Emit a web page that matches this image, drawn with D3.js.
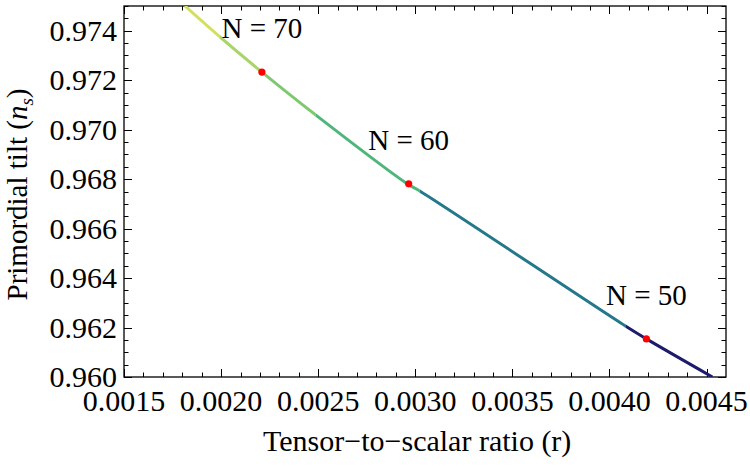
<!DOCTYPE html>
<html>
<head>
<meta charset="utf-8">
<script src="https://cdn.jsdelivr.net/npm/d3@7"></script>
<style>
  body { margin: 0; background: #fff; }
  text { font-family: "Liberation Serif", "Times New Roman", serif; fill: #000; }
</style>
</head>
<body>
<div id="chart-container"></div>
<script>
// Curve: tensor-to-scalar ratio r vs primordial tilt ns
var curveR  = [0.001814, 0.001994, 0.002210, 0.002488, 0.002961, 0.003023, 0.004082, 0.004190, 0.004530];
var curveNs = [0.975000, 0.973750, 0.972330, 0.970590, 0.967800, 0.967520, 0.962060, 0.961540, 0.960000];

// Colour pieces along the curve (r where each piece starts / ends)
var segmentBreaks = [0.001814, 0.001994, 0.002210, 0.002488, 0.003023, 0.004082, 0.004530];
var segmentColors = ["#d2e05e", "#a9d46a", "#7ec86e", "#4eb67a", "#23788b", "#1d1c6c"];

// Marked e-fold numbers
var markLabels = ["N = 70", "N = 60", "N = 50"];
var markR  = [0.002210, 0.002966, 0.004190];
var markNs = [0.972330, 0.967810, 0.961540];

// Axis ticks
var xTicks = [0.0015, 0.0020, 0.0025, 0.0030, 0.0035, 0.0040, 0.0045];
var yTicks = [0.960, 0.962, 0.964, 0.966, 0.968, 0.970, 0.972, 0.974];

var W = 750, H = 469;
var margin = {top: 6, right: 24, bottom: 92, left: 124},
    width = W - margin.left - margin.right,
    height = H - margin.top - margin.bottom;

var svg = d3.select("#chart-container")
    .append("svg")
    .attr("width", W)
    .attr("height", H);

var plot = svg.append("g")
    .attr("transform", "translate(" + margin.left + "," + margin.top + ")");

var xScale = d3.scaleLinear().domain([0.0015, 0.0046]).range([0, width]);
var yScale = d3.scaleLinear().domain([0.960, 0.975]).range([height, 0]);

// Minor tick values
var xMinor = d3.range(15, 46).map(function(i) { return i / 10000; });
var yMinor = d3.range(0, 31).map(function(i) { return 0.960 + i * 0.0005; });

var ticks = plot.append("g").attr("stroke", "#000").attr("stroke-width", 1);

// Bottom & top ticks (pointing inward)
xMinor.forEach(function(v) {
    var major = xTicks.some(function(t) { return Math.abs(t - v) < 1e-9; });
    var len = major ? 8 : 4.5;
    var x = Math.round(xScale(v)) + 0.5;
    ticks.append("line").attr("x1", x).attr("x2", x).attr("y1", height).attr("y2", height - len);
    ticks.append("line").attr("x1", x).attr("x2", x).attr("y1", 0).attr("y2", len);
});
// Left & right ticks
yMinor.forEach(function(v) {
    var major = yTicks.some(function(t) { return Math.abs(t - v) < 1e-9; });
    var len = major ? 8 : 4.5;
    var y = Math.round(yScale(v)) + 0.5;
    ticks.append("line").attr("x1", 0).attr("x2", len).attr("y1", y).attr("y2", y);
    ticks.append("line").attr("x1", width).attr("x2", width - len).attr("y1", y).attr("y2", y);
});

// Frame
plot.append("rect")
    .attr("x", 0).attr("y", 0)
    .attr("width", width).attr("height", height)
    .attr("fill", "none")
    .attr("stroke", "#000")
    .attr("stroke-width", 1.3);

// Tick labels
plot.append("g").selectAll("text")
    .data(xTicks)
    .join("text")
    .attr("x", function(d) { return xScale(d); })
    .attr("y", height + 34)
    .attr("text-anchor", "middle")
    .style("font-size", "30px")
    .text(function(d) { return d.toFixed(4); });

plot.append("g").selectAll("text")
    .data(yTicks)
    .join("text")
    .attr("x", -7)
    .attr("y", function(d) { return yScale(d); })
    .attr("dy", "0.34em")
    .attr("text-anchor", "end")
    .style("font-size", "30px")
    .text(function(d) { return d.toFixed(3); });

// Curve, coloured piece by piece with clip rectangles
var pts = curveR.map(function(r, i) { return [r, curveNs[i]]; });
var line = d3.line()
    .x(function(d) { return xScale(d[0]); })
    .y(function(d) { return yScale(d[1]); })
    .curve(d3.curveCatmullRom);

var defs = svg.append("defs");
defs.append("clipPath").attr("id", "plot-clip")
    .append("rect").attr("width", width).attr("height", height);

var linesGroup = plot.append("g").attr("clip-path", "url(#plot-clip)");
segmentColors.forEach(function(c, i) {
    var x0 = xScale(segmentBreaks[i]), x1 = xScale(segmentBreaks[i + 1]);
    if (i === 0) x0 = -10;
    if (i === segmentColors.length - 1) x1 = width + 10;
    defs.append("clipPath").attr("id", "seg-" + i)
        .append("rect").attr("x", x0).attr("y", -10).attr("width", x1 - x0).attr("height", height + 20);
    linesGroup.append("g").attr("clip-path", "url(#seg-" + i + ")")
        .append("path")
        .datum(pts)
        .attr("fill", "none")
        .attr("stroke", c)
        .attr("stroke-width", 3)
        .attr("d", line);
});

// Red markers and labels
markR.forEach(function(r, i) {
    plot.append("circle")
        .attr("cx", xScale(r))
        .attr("cy", yScale(markNs[i]))
        .attr("r", 3.6)
        .attr("fill", "#ff0000");
    plot.append("text")
        .attr("x", xScale(r))
        .attr("y", yScale(markNs[i]) - 34)
        .attr("text-anchor", "middle")
        .style("font-size", "29px")
        .text(markLabels[i]);
});

// Axis titles
svg.append("text")
    .attr("x", margin.left + xScale(0.00301))
    .attr("y", 451)
    .attr("text-anchor", "middle")
    .style("font-size", "30px")
    .text("Tensor\u2212to\u2212scalar ratio (r)");

var yl = svg.append("text")
    .attr("transform", "translate(27," + (margin.top + height / 2 + 3) + ") rotate(-90)")
    .attr("text-anchor", "middle")
    .style("font-size", "29px");
yl.append("tspan").text("Primordial tilt (");
yl.append("tspan").style("font-style", "italic").text("n");
yl.append("tspan").style("font-style", "italic").style("font-size", "19px").attr("dy", "6").text("s");
yl.append("tspan").attr("dy", "-6").text(")");
</script>
</body>
</html>
